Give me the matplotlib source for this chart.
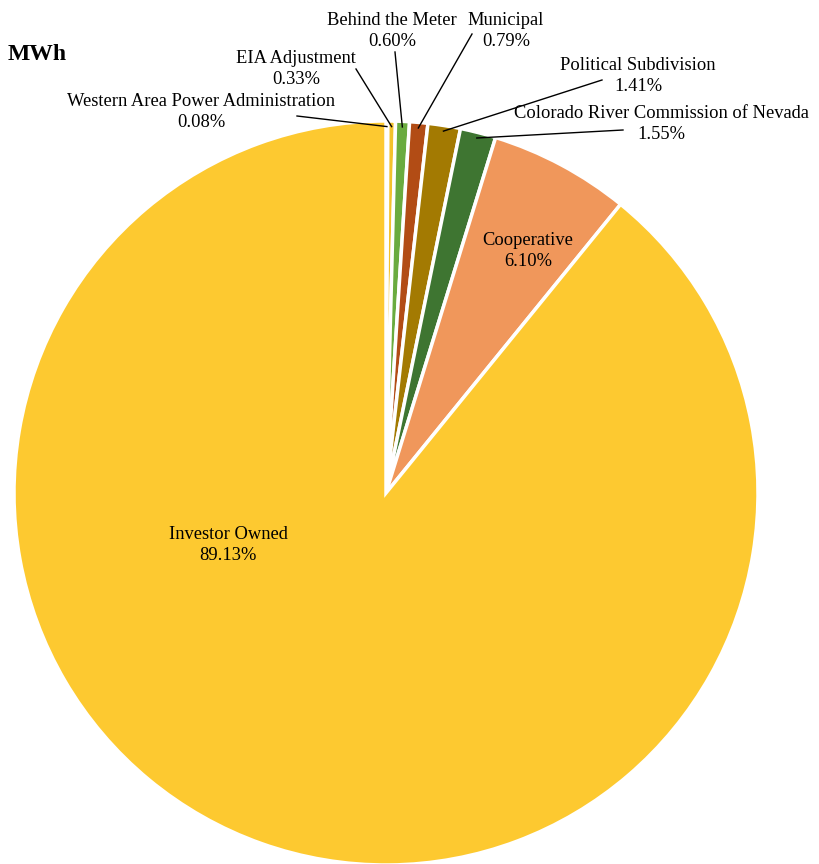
import numpy as np
import matplotlib.pyplot as plt

plt.rcParams['font.family'] = ['Liberation Serif', 'DejaVu Serif']

categories = ['Western Area Power Administration', 'EIA Adjustment', 'Behind the Meter',
              'Municipal', 'Political Subdivision', 'Colorado River Commission of Nevada',
              'Cooperative', 'Investor Owned']
shares = [0.08, 0.33, 0.60, 0.79, 1.41, 1.55, 6.10, 89.13]
colors = ['#f7d35a', '#f3c22c', '#6aab3f', '#b24c15', '#a37a02', '#3e7531', '#f0975b', '#fdc930']

W, H = 820, 864
fig = plt.figure(figsize=(W / 100, H / 100), dpi=100)
ax = fig.add_axes([0, 0, 1, 1])

cx, cy, r = 386, H - 493, 372
wedges, _ = ax.pie(shares, colors=colors, startangle=90, counterclock=False,
                   center=(cx, cy), radius=r, frame=True,
                   wedgeprops=dict(edgecolor='white', linewidth=2.5))
ax.set_xlim(0, W)
ax.set_ylim(0, H)
ax.set_aspect('equal')
ax.axis('off')

fs = 13.3
ls = 1.36

# outside labels: (text x, text y centre, leader start x, leader start y)
outside = {
    0: (201, 112, 297, 116),
    1: (296, 69, 356, 69),
    2: (392, 31, 395, 52),
    3: (506, 31, 472, 34),
    4: (638, 76, 602, 80),
    5: (661, 124, 623, 130),
}
for i, (tx, ty, lx, ly) in outside.items():
    w = wedges[i]
    mid = np.deg2rad((w.theta1 + w.theta2) / 2)
    ex = cx + 0.985 * r * np.cos(mid)
    ey = cy + 0.985 * r * np.sin(mid)
    ax.plot([lx, ex], [H - ly, ey], color='black', lw=1)
    ax.text(tx, H - ty, f'{categories[i]}\n{shares[i]:.2f}%', ha='center', va='center',
            fontsize=fs, linespacing=ls)

# inside labels
ax.text(528, H - 251, f'{categories[6]}\n{shares[6]:.2f}%', ha='center', va='center',
        fontsize=fs, linespacing=ls)
ax.text(228, H - 545, f'{categories[7]}\n{shares[7]:.2f}%', ha='center', va='center',
        fontsize=fs, linespacing=ls)

ax.text(8, H - 54, 'MWh', ha='left', va='center', fontsize=17, fontweight='bold')

fig.savefig('out.png', dpi=100)
